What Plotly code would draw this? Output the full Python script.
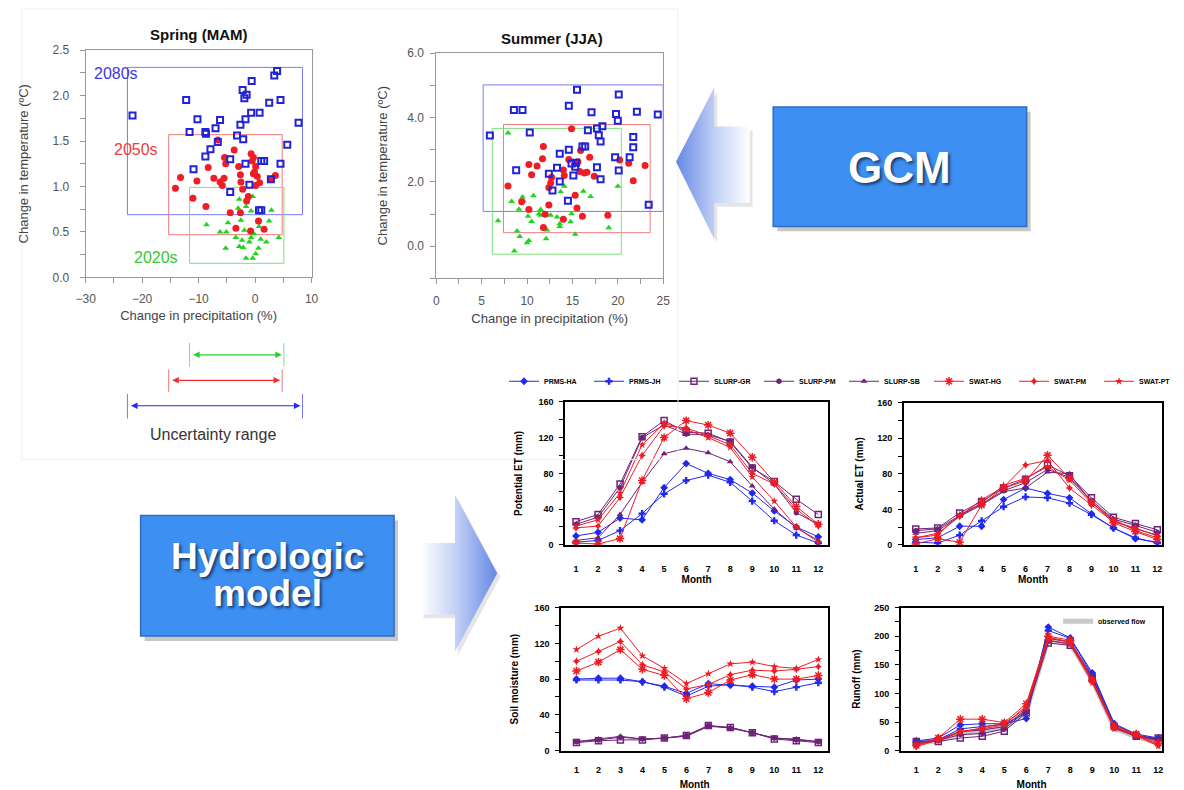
import plotly.graph_objects as go

W, H = 1184, 790

# ---------------- DATA ----------------
# Spring (MAM): change in precipitation (%) vs change in temperature (ºC)
spring_2080s_x = [-21.7, -12.2, -10.2, -11.6, -8.8, -8.7, -6.2, -7.0, -6.6, -7.9, -8.8, -10.9, -3.2, -4.4, -4.4,
                  -2.6, -2.1, -2.2, -1.9, -1.5, -0.6, -1.7, -0.7, 0.8, -1.7, -1.0, 1.1, 1.6, 2.5, 4.5, 3.4, 3.9,
                  7.7, 5.7, 4.5, 2.8, 0.7, 1.1]
spring_2080s_y = [1.78, 1.95, 1.74, 1.60, 1.60, 1.58, 1.73, 1.64, 1.49, 1.41, 1.33, 1.19, 1.56, 1.30, 0.94,
                  1.68, 1.52, 2.06, 1.97, 2.01, 2.16, 1.74, 1.81, 1.81, 1.25, 1.02, 1.28, 1.28, 1.92, 1.95, 2.22, 2.27,
                  1.70, 1.46, 1.25, 1.08, 0.74, 0.74]
spring_2050s_x = [-14.1, -13.2, -10.3, -11.0, -8.7, -8.3, -7.3, -6.6, -6.2, -5.5, -5.4, -5.2, -5.8, -3.7, -2.9,
                  -2.6, -2.5, -2.2, -1.2, -1.5, -0.7, -0.3, -0.5, 0.1, -0.3, 0.4, 0.8, 0.1, -0.1, 3.6, 2.9, -4.4,
                  -2.6, -3.4, -0.8, 0.6, 1.6]
spring_2050s_y = [0.98, 1.10, 1.06, 0.87, 0.78, 1.21, 1.09, 1.51, 1.05, 1.09, 1.32, 1.25, 1.01, 1.40, 1.22,
                  1.13, 1.05, 0.97, 0.89, 0.84, 1.36, 1.32, 1.28, 1.22, 1.14, 1.11, 1.04, 1.01, 1.16, 1.12, 1.08, 0.71,
                  0.71, 0.54, 0.51, 0.62, 0.53]
spring_2020s_x = [-11.0, -8.6, -6.2, -5.2, -5.1, -4.8, -3.4, -3.0, -2.8, -2.5, -1.9, -1.6, -1.6, -0.7, -0.4,
                  0.1, 0.6, -0.7, -0.2, -1.0, -2.3, 2.0, 2.5, 2.9, 4.2, -2.8, -0.4, 0.7, 1.0, -2.1]
spring_2020s_y = [0.88, 0.58, 0.50, 0.32, 0.50, 0.60, 0.44, 0.76, 0.34, 0.63, 0.52, 0.21, 0.78, 0.73, 0.21,
                  0.26, 0.32, 0.44, 0.48, 0.39, 0.41, 0.39, 0.62, 0.74, 0.44, 0.86, 0.89, 0.56, 0.42, 0.33]

# Summer (JJA)
summer_2080s_x = [5.9, 8.55, 9.5, 10.3, 8.8, 14.6, 15.5, 17.1, 19.8, 20.1, 20.0, 22.1, 24.4, 17.7, 18.3, 17.9,
                  18.1, 16.7, 16.1, 16.4, 14.6, 13.6, 13.3, 14.9, 15.3, 15.4, 15.1, 12.4, 13.6, 12.8, 14.5, 17.7,
                  18.1, 19.7, 20.1, 21.3, 21.7, 21.7, 23.4]
summer_2080s_y = [3.44, 4.23, 4.23, 3.53, 2.36, 4.36, 4.86, 4.16, 4.11, 4.71, 3.90, 4.18, 4.09, 3.66, 3.73, 3.45,
                  3.25, 3.60, 3.10, 3.10, 3.00, 2.87, 2.44, 2.57, 2.47, 2.59, 2.20, 2.25, 2.01, 1.73, 1.41, 2.45,
                  2.08, 2.76, 2.35, 2.76, 3.39, 3.07, 1.29]
summer_2050s_x = [7.9, 9.4, 10.2, 10.2, 10.5, 11.1, 11.7, 11.8, 12.0, 11.8, 12.4, 12.4, 12.7, 12.6, 14.0, 14.1,
                  14.0, 14.6, 14.9, 15.3, 15.5, 15.6, 15.8, 15.9, 16.1, 16.3, 16.6, 16.9, 17.4, 18.9, 20.2, 21.2,
                  21.7, 23.0]
summer_2050s_y = [1.87, 1.38, 1.14, 2.54, 2.22, 2.49, 2.72, 3.10, 0.99, 0.58, 1.28, 1.82, 2.14, 1.96, 2.37, 2.20,
                  0.84, 2.69, 3.65, 1.58, 1.19, 2.62, 2.32, 2.97, 0.93, 2.27, 2.30, 2.76, 2.17, 0.96, 2.68, 2.58,
                  2.03, 2.51]
summer_2020s_x = [7.9, 6.8, 8.3, 8.6, 8.9, 9.2, 9.1, 9.5, 9.6, 10.0, 10.2, 10.1, 10.5, 10.7, 11.3, 11.5, 11.5,
                  12.1, 12.2, 12.6, 13.3, 13.6, 13.6, 14.1, 13.7, 14.8, 15.3, 16.2, 17.0, 19.0, 20.0, 14.9]
summer_2020s_y = [3.52, 0.79, 1.39, -0.15, 0.47, 0.30, 1.15, 1.53, 1.41, 0.11, 0.18, 0.93, 0.77, 1.57, 1.00, 1.14,
                  0.96, 0.23, 0.50, 0.96, 0.91, 0.70, 0.61, 1.86, 1.69, 0.76, 0.37, 1.71, 1.54, 0.57, 1.86, 1.01]

# Uncertainty boxes: [precip min, precip max, temp min, temp max]
spring_box_2080s = [-22.6, 8.4, 0.69, 2.31]
spring_box_2050s = [-15.3, 4.8, 0.47, 1.57]
spring_box_2020s = [-11.6, 5.1, 0.155, 0.99]
summer_box_2080s = [5.16, 25.0, 1.08, 5.01]
summer_box_2050s = [7.4, 23.56, 0.42, 3.78]
summer_box_2020s = [6.17, 20.38, -0.25, 3.66]

# Hydrologic model results (monthly)
months = list(range(1, 13))
model_names = ["PRMS-HA", "PRMS-JH", "SLURP-GR", "SLURP-PM", "SLURP-SB", "SWAT-HG", "SWAT-PM", "SWAT-PT"]

pet_values = [
    [10, 14, 30, 28, 64, 91, 80, 73, 58, 38, 20, 9],
    [3, 5, 16, 35, 57, 72, 78, 70, 49, 27, 11, 2],
    [26, 34, 68, 121, 139, 126, 125, 115, 86, 71, 51, 34],
    [23, 31, 64, 120, 134, 124, 123, 116, 87, 68, 36, 23],
    [5, 8, 34, 70, 102, 108, 103, 93, 66, 40, 19, 5],
    [2, 1, 7, 72, 120, 139, 134, 125, 98, 70, 43, 23],
    [19, 21, 53, 100, 133, 131, 122, 112, 80, 68, 40, 21],
    [21, 28, 58, 112, 136, 129, 120, 109, 76, 49, 20, 3],
]
aet_values = [
    [6, 8, 21, 21, 51, 64, 58, 53, 35, 19, 7, 3],
    [3, 2, 11, 27, 43, 54, 53, 47, 34, 19, 8, 2],
    [18, 19, 36, 49, 64, 74, 90, 78, 53, 31, 24, 17],
    [16, 18, 33, 46, 61, 70, 85, 76, 50, 29, 22, 14],
    [13, 16, 32, 45, 60, 64, 82, 80, 48, 27, 18, 11],
    [1, 7, 3, 45, 64, 72, 101, 75, 49, 25, 15, 6],
    [8, 13, 32, 51, 65, 90, 95, 64, 45, 26, 19, 10],
    [8, 11, 34, 47, 67, 75, 88, 73, 47, 29, 16, 8],
]
sm_values = [
    [80, 81, 81, 77, 72, 64, 75, 73, 72, 71, 79, 80],
    [79, 79, 79, 77, 71, 61, 72, 74, 71, 66, 71, 76],
    [9, 11, 12, 12, 14, 17, 28, 26, 20, 13, 11, 9],
    [10, 12, 15, 13, 14, 17, 28, 25, 20, 14, 12, 10],
    [10, 13, 16, 13, 14, 16, 27, 26, 20, 14, 13, 10],
    [89, 99, 113, 91, 84, 58, 65, 79, 85, 80, 80, 84],
    [100, 111, 122, 96, 88, 69, 74, 85, 90, 89, 91, 94],
    [113, 128, 137, 106, 92, 75, 86, 97, 99, 94, 92, 102],
]
runoff_values = [
    [17, 22, 45, 47, 47, 56, 216, 197, 136, 47, 29, 22],
    [15, 19, 38, 42, 46, 66, 210, 196, 133, 46, 27, 21],
    [16, 16, 22, 25, 34, 66, 188, 184, 126, 42, 25, 22],
    [14, 18, 28, 30, 38, 70, 192, 187, 128, 40, 24, 20],
    [12, 17, 33, 36, 42, 72, 196, 190, 130, 41, 25, 18],
    [9, 22, 55, 55, 49, 82, 200, 193, 123, 43, 29, 13],
    [7, 19, 34, 38, 45, 78, 198, 190, 121, 40, 28, 10],
    [10, 20, 32, 40, 48, 74, 193, 186, 119, 38, 26, 8],
]
observed_flow = [13, 17, 30, 34, 41, 68, 194, 187, 124, 39, 24, 14]

# ---------------- STYLES ----------------
BLUE, PURPLE, RED = "#2129ef", "#6e2378", "#ee1c24"
model_colors = [BLUE, BLUE, PURPLE, PURPLE, PURPLE, RED, RED, RED]
model_symbols = ["diamond", "cross", "square-open", "hexagon", "triangle-up", "asterisk-open", "star-diamond", "star"]

P_BLUE, P_RED, P_GREEN = "#2222d6", "#ef1d25", "#22d422"
BOX_BLUE, BOX_RED, BOX_GREEN = "#7a7af2", "#f07a7a", "#7ee07e"


def dom_x(left, right):
    return [left / W, right / W]


def dom_y(top, bottom):
    return [1 - bottom / H, 1 - top / H]


fig = go.Figure()

# ---------------- GCM scatter plots ----------------
for xa, ya, sets in [
    ("x", "y", [(spring_2020s_x, spring_2020s_y, "2020s"), (spring_2050s_x, spring_2050s_y, "2050s"),
                (spring_2080s_x, spring_2080s_y, "2080s")]),
    ("x2", "y2", [(summer_2020s_x, summer_2020s_y, "2020s"), (summer_2050s_x, summer_2050s_y, "2050s"),
                  (summer_2080s_x, summer_2080s_y, "2080s")]),
]:
    for xs, ys, period in sets:
        if period == "2020s":
            mk = dict(symbol="triangle-up", size=6, color=P_GREEN)
        elif period == "2050s":
            mk = dict(symbol="circle", size=7, color=P_RED)
        else:
            mk = dict(symbol="square-open", size=6, color=P_BLUE, line=dict(width=2, color=P_BLUE))
        fig.add_trace(go.Scatter(x=xs, y=ys, mode="markers", marker=mk, name=period,
                                 xaxis=xa, yaxis=ya, showlegend=False))

# ---------------- Hydrologic model line plots ----------------
fig.add_trace(go.Scatter(x=months, y=observed_flow, mode="lines", name="observed flow",
                         line=dict(color="#c9c9c9", width=5), xaxis="x6", yaxis="y6",
                         legend="legend2", showlegend=True))

panels = [("x3", "y3", pet_values), ("x4", "y4", aet_values), ("x5", "y5", sm_values), ("x6", "y6", runoff_values)]
for pi, (xa, ya, vals) in enumerate(panels):
    for mi, name in enumerate(model_names):
        sym = model_symbols[mi]
        col = model_colors[mi]
        is_open = sym.endswith("open")
        fig.add_trace(go.Scatter(
            x=months, y=vals[mi], mode="lines+markers", name=name, legendgroup=name,
            showlegend=(pi == 0),
            line=dict(color=col, width=1),
            marker=dict(symbol=sym, size=6 if sym != "asterisk-open" else 7, color=col,
                        line=dict(color=col, width=1.5 if is_open else 0)),
            xaxis=xa, yaxis=ya))

# ---------------- Decorative arrows (pixel canvas) ----------------
left_arrow_x = [678, 717, 717, 753, 753, 717, 717, 678]
left_arrow_y = [158, 82, 122, 122, 200, 200, 237, 158]
right_arrow_x = [418, 453, 453, 496, 453, 453, 418, 418]
right_arrow_y = [547, 547, 498, 578, 658, 620, 620, 547]

for ax_, ay_, cs in [(left_arrow_x, left_arrow_y, [[0, "#6688e4"], [0.55, "#c4d2f6"], [1, "#ffffff"]]),
                     (right_arrow_x, right_arrow_y, [[0, "#ffffff"], [0.45, "#c4d2f6"], [1, "#6688e4"]])]:
    fig.add_trace(go.Scatter(x=[v + 3 for v in ax_], y=[v + 4 for v in ay_], mode="lines", fill="toself",
                             fillcolor="rgba(0,0,0,0.10)", line=dict(width=0, color="rgba(0,0,0,0)"),
                             xaxis="x7", yaxis="y7", showlegend=False, hoverinfo="skip"))
    fig.add_trace(go.Scatter(x=ax_, y=ay_, mode="lines", fill="toself",
                             fillgradient=dict(type="horizontal", colorscale=cs),
                             line=dict(width=0, color="rgba(0,0,0,0)"),
                             xaxis="x7", yaxis="y7", showlegend=False, hoverinfo="skip"))

# ---------------- Shapes ----------------
shapes = []
shapes.append(dict(type="rect", xref="x7", yref="y7", x0=12, x1=680, y0=2, y1=462,
                   line=dict(color="#eeeeee", width=1), fillcolor="rgba(0,0,0,0)", layer="below"))

for xr, yr, boxes in [("x", "y", [(spring_box_2080s, BOX_BLUE), (spring_box_2050s, BOX_RED), (spring_box_2020s, BOX_GREEN)]),
                      ("x2", "y2", [(summer_box_2080s, BOX_BLUE), (summer_box_2050s, BOX_RED), (summer_box_2020s, BOX_GREEN)])]:
    for b, c in boxes:
        shapes.append(dict(type="rect", xref=xr, yref=yr, x0=b[0], x1=b[1], y0=b[2], y1=b[3],
                           line=dict(color=c, width=1), layer="below"))

unc_rows = [(spring_box_2020s, BOX_GREEN, "#2ecc2e", 343, 367, 355),
            (spring_box_2050s, BOX_RED, "#f03030", 370, 393, 381),
            (spring_box_2080s, BOX_BLUE, "#2a2ae8", 395, 420, 407)]
for b, tc, ac, ytop, ybot, yc in unc_rows:
    for xv in (b[0], b[1]):
        shapes.append(dict(type="line", xref="x", yref="paper", x0=xv, x1=xv,
                           y0=1 - ybot / H, y1=1 - ytop / H, line=dict(color=tc, width=1)))

for (x0, y0, x1, y1) in [(777, 102, 1035, 224), (133, 519, 391, 642)]:
    shapes.append(dict(type="rect", xref="x7", yref="y7", x0=x0 + 4, x1=x1 + 4, y0=y0 + 5, y1=y1 + 5,
                       fillcolor="rgba(0,0,0,0.22)", line=dict(width=0)))
    shapes.append(dict(type="rect", xref="x7", yref="y7", x0=x0, x1=x1, y0=y0, y1=y1,
                       fillcolor="#3d8ff2", line=dict(color="#2c6cc2", width=1.5)))

# ---------------- Annotations ----------------
ann = []
ann.append(dict(text="Spring (MAM)", xref="paper", yref="paper", x=192 / W, y=1 - 28 / H, showarrow=False,
                xanchor="center", yanchor="middle",
                font=dict(size=15, weight="bold", color="#111", family="Liberation Sans, Arial")))
ann.append(dict(text="Summer (JJA)", xref="paper", yref="paper", x=552 / W, y=1 - 32 / H, showarrow=False,
                xanchor="center", yanchor="middle",
                font=dict(size=15, weight="bold", color="#111", family="Liberation Sans, Arial")))
ann.append(dict(text="2080s", xref="x", yref="y", x=-24.6, y=2.24, showarrow=False,
                font=dict(size=16, color="#3b3bdc")))
ann.append(dict(text="2050s", xref="x", yref="y", x=-21.0, y=1.41, showarrow=False,
                font=dict(size=16, color="#ef3b3b")))
ann.append(dict(text="2020s", xref="x", yref="y", x=-17.5, y=0.22, showarrow=False,
                font=dict(size=16, color="#36c836")))

for b, tc, ac, ytop, ybot, yc in unc_rows:
    ann.append(dict(text="", xref="x", yref="paper", x=b[1], y=1 - yc / H, axref="x", ayref="pixel",
                    ax=b[0], ay=0, showarrow=True, arrowhead=2, startarrowhead=2, arrowside="end+start",
                    arrowsize=1.1, startarrowsize=1.1, arrowwidth=1.2, arrowcolor=ac,
                    standoff=2, startstandoff=2))
ann.append(dict(text="Uncertainty range", xref="paper", yref="paper", x=207 / W, y=1 - 436 / H,
                xanchor="center", yanchor="middle",
                showarrow=False, font=dict(size=16, color="#333")))

shadow = "2px 2px 3px rgba(10,30,70,0.75)"
ann.append(dict(text="GCM", xref="x7", yref="y7", x=906, y=164, showarrow=False,
                font=dict(size=44, weight="bold", color="white", family="Liberation Sans, Arial", shadow=shadow)))
ann.append(dict(text="Hydrologic", xref="x7", yref="y7", x=262, y=561, showarrow=False,
                font=dict(size=37, weight="bold", color="white", family="Liberation Sans, Arial", shadow=shadow)))
ann.append(dict(text="model", xref="x7", yref="y7", x=262, y=599, showarrow=False,
                font=dict(size=37, weight="bold", color="white", family="Liberation Sans, Arial", shadow=shadow)))

# ---------------- Axes ----------------
sc_tick = dict(size=12, color="#555")
sc_title = dict(size=13, color="#444")
sc_common = dict(showline=True, linecolor="#999", linewidth=1, mirror=True, ticks="outside", ticklen=5,
                 tickcolor="#999", showgrid=False, zeroline=False, tickfont=sc_tick)

ln_tick = dict(size=9, color="black", weight="bold")
ln_title = dict(size=10, color="black", weight="bold")
ln_common = dict(showline=True, linecolor="black", linewidth=1.5, mirror=True, showgrid=False,
                 zeroline=False, tickfont=ln_tick)


def ln_x(domain, rng, anchor, standoff, lab_standoff):
    return dict(ln_common, domain=domain, range=rng, anchor=anchor, tickmode="linear", tick0=1, dtick=1,
                ticks="", ticklabelstandoff=lab_standoff,
                title=dict(text="Month", font=ln_title, standoff=standoff))


def ln_y(domain, rng, anchor, dtick, title, standoff):
    return dict(ln_common, domain=domain, range=rng, anchor=anchor, tick0=0, dtick=dtick, ticks="outside",
                ticklen=4, tickcolor="black", ticklabelstandoff=4,
                minor=dict(dtick=dtick / 2, ticks="outside", ticklen=4, tickcolor="black"),
                title=dict(text=title, font=ln_title, standoff=standoff))


fig.update_layout(
    width=W, height=H, margin=dict(l=0, r=0, t=0, b=0),
    paper_bgcolor="white", plot_bgcolor="rgba(0,0,0,0)",
    font=dict(family="Liberation Sans, Arial, sans-serif"),
    xaxis=dict(sc_common, domain=dom_x(77, 307), range=[-30, 10], anchor="y", dtick=10, tick0=0,
               ticklabelstandoff=5,
               minor=dict(dtick=5, ticks="outside", ticklen=5, tickcolor="#999"),
               title=dict(text="Change in precipitation (%)", font=sc_title, standoff=6)),
    yaxis=dict(sc_common, domain=dom_y(44, 276), range=[0, 2.5], anchor="x", dtick=0.5, tick0=0,
               tickformat=".1f", ticklabelstandoff=8,
               minor=dict(dtick=0.25, ticks="outside", ticklen=5, tickcolor="#999"),
               title=dict(text="Change in temperature (ºC)", font=sc_title, standoff=20)),
    xaxis2=dict(sc_common, domain=dom_x(434, 665), range=[0, 25], anchor="y2", dtick=5, tick0=0,
                ticklabelstandoff=6,
                minor=dict(dtick=2.5, ticks="outside", ticklen=5, tickcolor="#999"),
                title=dict(text="Change in precipitation (%)", font=sc_title, standoff=7)),
    yaxis2=dict(sc_common, domain=dom_y(47, 277), range=[-1, 6], anchor="x2", dtick=2, tick0=0,
                tickformat=".1f", ticklabelstandoff=4,
                minor=dict(dtick=1, ticks="outside", ticklen=5, tickcolor="#999"),
                title=dict(text="Change in temperature (ºC)", font=sc_title, standoff=16)),
    xaxis3=ln_x(dom_x(565, 833), [0.5, 12.45], "y3", 2, 15),
    yaxis3=ln_y(dom_y(403, 549), [0, 160], "x3", 40, "Potential ET (mm)", 14),
    xaxis4=ln_x(dom_x(910, 1173), [0.46, 12.22], "y4", 2, 15),
    yaxis4=ln_y(dom_y(404, 549), [0, 160], "x4", 40, "Actual ET (mm)", 12),
    xaxis5=ln_x(dom_x(561, 833), [0.3, 12.45], "y5", 8, 10),
    yaxis5=ln_y(dom_y(613, 759), [0, 160], "x5", 40, "Soil moisture (mm)", 14),
    xaxis6=ln_x(dom_x(907, 1173), [0.3, 12.18], "y6", 8, 10),
    yaxis6=ln_y(dom_y(613, 759), [0, 250], "x6", 50, "Runoff (mm)", 12),
    xaxis7=dict(domain=[0, 1], range=[0, W], anchor="y7", visible=False, fixedrange=True),
    yaxis7=dict(domain=[0, 1], range=[H, 0], anchor="x7", visible=False, fixedrange=True),
    legend=dict(orientation="h", x=503 / W, y=1 - 382 / H, xanchor="left", yanchor="middle",
                entrywidth=40, entrywidthmode="pixels", itemwidth=30, bgcolor="rgba(0,0,0,0)",
                font=dict(size=7, color="black", weight="bold")),
    legend2=dict(orientation="h", x=1067 / W, y=1 - 627 / H, xanchor="left", yanchor="middle",
                 bgcolor="rgba(0,0,0,0)", font=dict(size=7, color="black", weight="bold")),
    shapes=shapes,
    annotations=ann,
)

fig.write_html("out.html")
